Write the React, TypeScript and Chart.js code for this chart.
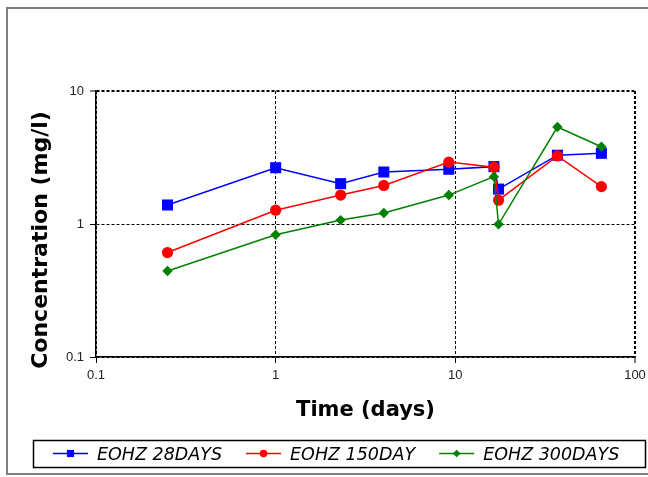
import React, { useEffect, useRef } from 'react';
import { Chart, registerables } from 'chart.js';

Chart.register(...registerables);

// ---- data ----
const days = [0.25, 1, 2.3, 4, 9.2, 16.4, 17.4, 37, 65];
const eohz28 = [1.39, 2.65, 2.01, 2.46, 2.58, 2.7, 1.83, 3.29, 3.4];
const eohz150 = [0.61, 1.27, 1.65, 1.95, 2.92, 2.67, 1.51, 3.25, 1.91];
const eohz300 = [0.443, 0.831, 1.07, 1.21, 1.65, 2.27, 0.995, 5.36, 3.81];
const seriesNames = ['EOHZ 28DAYS', 'EOHZ 150DAY', 'EOHZ 300DAYS'];
const xTickValues = [0.1, 1, 10, 100];
const xTickLabels = ['0.1', '1', '10', '100'];
const yTickValues = [0.1, 1, 10];
const yTickLabels = ['0.1', '1', '10'];
const xTitle = 'Time (days)';
const yTitle = 'Concentration (mg/l)';

const seriesColors = ['#0000FF', '#FF0000', '#008000'];
const seriesPoints = ['rect', 'circle', 'rectRot'];
const seriesRadius = [7.8, 5.6, 5.2];
const legendRadius = [5, 3.8, 3.8];

const toPoints = (ys: number[]) => days.map((d, i) => ({ x: d, y: ys[i] }));

const framePlugin = {
  id: 'frame',
  beforeDraw(chart: any) {
    const { ctx, width, height } = chart;
    ctx.save();
    ctx.fillStyle = '#ffffff';
    ctx.fillRect(0, 0, width, height);
    ctx.strokeStyle = '#7f7f7f';
    ctx.lineWidth = 2;
    ctx.strokeRect(7, 8, width + 10, 466);
    ctx.restore();
  },
};

const yTitlePlugin = {
  id: 'yTitle',
  afterDraw(chart: any) {
    const { ctx } = chart;
    ctx.save();
    ctx.translate(41.5, 240);
    ctx.rotate(-Math.PI / 2);
    ctx.font = 'bold 22px "DejaVu Sans"';
    ctx.fillStyle = '#000';
    ctx.textAlign = 'center';
    ctx.textBaseline = 'middle';
    ctx.fillText(yTitle, 0, 0);
    ctx.restore();
  },
};

const legendPlugin = {
  id: 'boxLegend',
  afterDraw(chart: any) {
    const { ctx } = chart;
    ctx.save();
    ctx.strokeStyle = '#000';
    ctx.lineWidth = 1.5;
    ctx.strokeRect(33.5, 440.5, 612, 27);
    ctx.font = 'italic 17.5px "DejaVu Sans"';
    ctx.textBaseline = 'alphabetic';
    ctx.textAlign = 'left';
    let x = 53;
    const yMid = 453.5;
    chart.data.datasets.forEach((ds: any, i: number) => {
      const color = ds.borderColor;
      ctx.strokeStyle = color;
      ctx.lineWidth = 1.5;
      ctx.beginPath();
      ctx.moveTo(x, yMid);
      ctx.lineTo(x + 35, yMid);
      ctx.stroke();
      ctx.fillStyle = color;
      const cx = x + 17.5;
      const r = legendRadius[i];
      ctx.beginPath();
      if (ds.pointStyle === 'rect') {
        ctx.rect(cx - r * 0.72, yMid - r * 0.72, r * 1.44, r * 1.44);
      } else if (ds.pointStyle === 'circle') {
        ctx.arc(cx, yMid, r, 0, Math.PI * 2);
      } else {
        ctx.moveTo(cx, yMid - r);
        ctx.lineTo(cx + r, yMid);
        ctx.lineTo(cx, yMid + r);
        ctx.lineTo(cx - r, yMid);
        ctx.closePath();
      }
      ctx.fill();
      ctx.fillStyle = '#000';
      const tx = x + 44;
      ctx.fillText(ds.label, tx, 460);
      x = tx + ctx.measureText(ds.label).width + 24;
    });
    ctx.restore();
  },
};

export default function App() {
  const ref = useRef<HTMLCanvasElement | null>(null);

  useEffect(() => {
    if (!ref.current) return;
    const seriesData = [eohz28, eohz150, eohz300];
    const chart = new Chart(ref.current, {
      type: 'line',
      data: {
        datasets: seriesData.map((ys, i) => ({
          label: seriesNames[i],
          data: toPoints(ys),
          borderColor: seriesColors[i],
          backgroundColor: seriesColors[i],
          borderWidth: 1.5,
          pointStyle: seriesPoints[i] as any,
          pointRadius: seriesRadius[i],
          pointBorderWidth: 0,
          pointBackgroundColor: seriesColors[i],
          tension: 0,
          order: 2 - i,
        })),
      },
      options: {
        responsive: false,
        maintainAspectRatio: false,
        animation: false,
        layout: { padding: { top: 91, right: 13, bottom: 47, left: 0 } },
        plugins: {
          legend: { display: false },
          tooltip: { enabled: false },
        },
        scales: {
          x: {
            type: 'logarithmic',
            min: 0.1,
            max: 100,
            afterBuildTicks: (scale: any) => {
              scale.ticks = xTickValues.map((v) => ({ value: v }));
            },
            afterFit: (scale: any) => {
              scale.height = 73;
              scale.paddingLeft = 0;
              scale.paddingRight = 0;
            },
            ticks: {
              autoSkip: false,
              maxRotation: 0,
              padding: 5,
              color: '#222',
              font: { family: 'Liberation Sans', size: 13 },
              callback: (v: any) => {
                const idx = xTickValues.indexOf(Number(v));
                return idx >= 0 ? xTickLabels[idx] : '';
              },
            },
            grid: {
              color: '#000',
              lineWidth: (c: any) => (c.tick && c.tick.value === 100 ? 2 : 1),
              drawTicks: true,
              tickLength: 6,
              tickColor: '#000',
              tickWidth: 1,
              tickBorderDash: [],
            },
            border: { display: true, color: '#000', width: 1.5, dash: [3, 2] },
            title: {
              display: true,
              text: xTitle,
              color: '#000',
              font: { family: 'DejaVu Sans', size: 21, weight: 'bold' },
              padding: { top: 0, bottom: 7 },
            },
          },
          y: {
            type: 'logarithmic',
            min: 0.1,
            max: 10,
            afterBuildTicks: (scale: any) => {
              scale.ticks = yTickValues.map((v) => ({ value: v }));
            },
            afterFit: (scale: any) => {
              scale.width = 96;
              scale.paddingTop = 0;
              scale.paddingBottom = 0;
            },
            ticks: {
              autoSkip: false,
              padding: 6,
              color: '#222',
              font: { family: 'Liberation Sans', size: 13 },
              callback: (v: any) => {
                const idx = yTickValues.indexOf(Number(v));
                return idx >= 0 ? yTickLabels[idx] : '';
              },
            },
            grid: {
              color: '#000',
              lineWidth: (c: any) => (c.tick && c.tick.value === 10 ? 2 : 1),
              drawTicks: true,
              tickLength: 6,
              tickColor: '#000',
              tickWidth: 1,
              tickBorderDash: [],
            },
            border: { display: true, color: '#000', width: 1.5, dash: [3, 2] },
            title: { display: false },
          },
        },
      },
      plugins: [framePlugin, yTitlePlugin, legendPlugin],
    } as any);
    return () => chart.destroy();
  }, []);

  return (
    <div style={{ position: 'fixed', left: 0, top: 0, width: 648, height: 477, background: '#fff' }}>
      <canvas ref={ref} width={648} height={477} style={{ display: 'block', width: 648, height: 477 }} />
    </div>
  );
}
